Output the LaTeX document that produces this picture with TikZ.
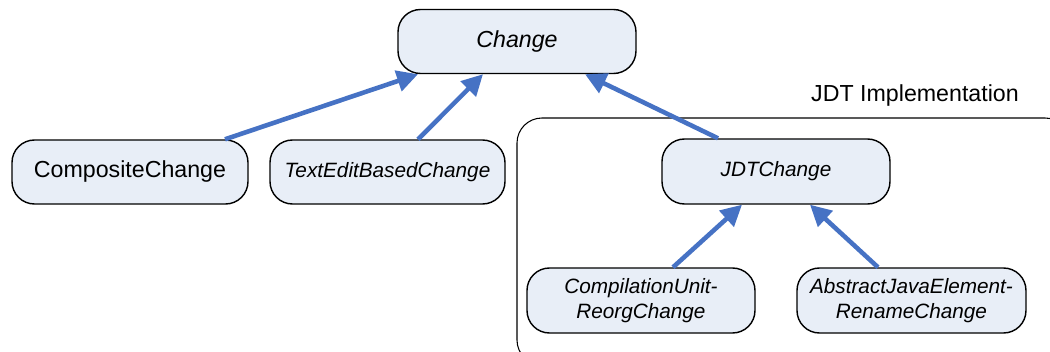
\documentclass[tikz,border=0pt]{standalone}
\usepackage{fontspec}
\setmainfont{Liberation Sans}
\usetikzlibrary{arrows.meta}

\definecolor{boxfill}{RGB}{232,238,247}
\definecolor{linkblue}{RGB}{70,114,196}

\tikzstyle{cls} = [draw, line width = 0.8pt, rounded corners = 0.45cm, fill = boxfill,
                   inner sep = 0pt, minimum height = 1.28cm, align = center]
\tikzstyle{bigtext} = [font = \fontsize{13.2}{15}\selectfont]
\tikzstyle{smalltext} = [font = \fontsize{11.8}{14.5}\selectfont\itshape]
\tikzstyle{inherit} = [draw = linkblue, line width = 2.6pt,
                       -{Triangle[length = 0.42cm, width = 0.42cm]}]

\begin{document}
\begin{tikzpicture}
        \useasboundingbox (0, 0) rectangle (21, -7.04);
        \clip (0, 0) rectangle (21, -7.04);

        % Container
        \draw[line width = 0.6pt, rounded corners = 0.5cm] (10.34, -2.36) rectangle (21.4, -7.3);
        \node[bigtext] (jdtlabel) at (20.5, -1.92) [anchor = east] {JDT Implementation};

        % Classes
        \node[cls, bigtext, font = \fontsize{13.2}{15}\selectfont\itshape, minimum width = 4.76cm] (change) at (10.34, -0.83) {Change};
        \node[cls, bigtext, minimum width = 4.72cm] (composite) at ( 2.60, -3.44) {CompositeChange};
        \node[cls, smalltext, minimum width = 4.70cm] (textedit)  at ( 7.75, -3.44) {TextEditBasedChange};
        \node[cls, smalltext, minimum width = 4.56cm, minimum height = 1.30cm] (jdt) at (15.52, -3.43) {JDTChange};
        \node[cls, smalltext, minimum width = 4.56cm, minimum height = 1.30cm] (reorg) at (12.82, -6.01)
          {CompilationUnit-\\ReorgChange};
        \node[cls, smalltext, minimum width = 4.58cm, minimum height = 1.30cm] (rename) at (18.23, -6.01)
          {AbstractJavaElement-\\RenameChange};

        % Inheritance
        \draw[inherit] ([xshift = 1.90cm]composite.north) -- ([xshift = -1.98cm]change.south);
        \draw[inherit] ([xshift = 0.61cm]textedit.north)  -- ([xshift = -0.68cm]change.south);
        \draw[inherit] ([xshift = -1.16cm]jdt.north)      -- ([xshift = 1.36cm]change.south);
        \draw[inherit] ([xshift = 0.64cm]reorg.north)     -- ([xshift = -0.68cm]jdt.south);
        \draw[inherit] ([xshift = -0.67cm]rename.north)   -- ([xshift = 0.68cm]jdt.south);
      \end{tikzpicture}
\end{document}
